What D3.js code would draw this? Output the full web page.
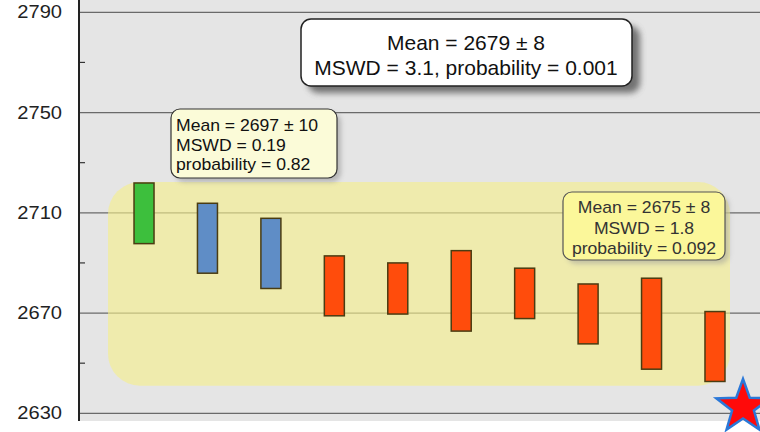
<!DOCTYPE html>
<html><head><meta charset="utf-8">
<script src="https://cdn.jsdelivr.net/npm/d3@7"></script>
<style>html,body{margin:0;padding:0;background:#fff;}svg{display:block;font-family:"Liberation Sans",Arial,sans-serif;}</style>
</head><body>
<svg id="c" width="760" height="432"></svg>
<script>
const samples = ["1","2","3","4","5","6","7","8","9","10"];
const highs = [2721.9, 2713.8, 2707.8, 2692.8, 2690.0, 2694.9, 2687.9, 2681.6, 2683.9, 2670.6];
const lows  = [2697.7, 2685.9, 2679.8, 2668.9, 2669.6, 2662.8, 2667.8, 2657.7, 2647.6, 2642.7];
const groups = ["old","mid","mid","young","young","young","young","young","young","young"];
const yTicks = [2630, 2670, 2710, 2750, 2790];
const yMinor = [2650, 2690, 2730, 2770];
const overallText = ["Mean = 2679 ± 8", "MSWD = 3.1, probability = 0.001"];
const oldText = ["Mean = 2697 ± 10", "MSWD = 0.19", "probability = 0.82"];
const youngText = ["Mean = 2675 ± 8", "MSWD = 1.8", "probability = 0.092"];

const colors = {old:"#3dbf3d", mid:"#5f8dc6", young:"#ff4c0c"};
const svg = d3.select("#c");
const W = 760, H = 432;
const plotLeft = 79, plotTop = 0, plotBottom = 421;
const y = d3.scaleLinear().domain([2630, 2790]).range([413.3, 12.3]);
const x = d3.scaleLinear().domain([0.5, 10.5]).range([112.3, 746.7]);

const defs = svg.append("defs");
const f = defs.append("filter").attr("id","sh").attr("x","-20%").attr("y","-20%").attr("width","150%").attr("height","160%");
f.append("feGaussianBlur").attr("stdDeviation", 2.5);
const f2 = defs.append("filter").attr("id","sh2").attr("x","-20%").attr("y","-20%").attr("width","150%").attr("height","160%");
f2.append("feGaussianBlur").attr("stdDeviation", 3);

// plot background
svg.append("rect").attr("x", plotLeft).attr("y", plotTop).attr("width", W-plotLeft).attr("height", plotBottom-plotTop).attr("fill", "#e5e5e5");

// gridlines
svg.append("g").selectAll("line").data(yTicks).join("line")
  .attr("x1", plotLeft).attr("x2", W).attr("y1", d=>y(d)).attr("y2", d=>y(d))
  .attr("stroke", "#6a6a6a").attr("stroke-width", 1.2);

// yellow highlight region
svg.append("rect")
  .attr("x", 108).attr("y", y(2722.3)).attr("width", 730-108).attr("height", y(2641) - y(2722.3))
  .attr("rx", 32).attr("ry", 32)
  .attr("fill", "#f6ef8a").attr("fill-opacity", 0.62);

// minor ticks
svg.append("g").selectAll("line").data(yMinor).join("line")
  .attr("x1", plotLeft).attr("x2", plotLeft+6).attr("y1", d=>y(d)).attr("y2", d=>y(d))
  .attr("stroke", "#333").attr("stroke-width", 1.2);

// axis line
svg.append("line").attr("x1", plotLeft).attr("x2", plotLeft).attr("y1", 0).attr("y2", plotBottom)
  .attr("stroke", "#222").attr("stroke-width", 2);

// y labels
svg.append("g").selectAll("text").data(yTicks).join("text")
  .attr("transform", d=>`translate(62,${y(d)+6}) scale(1.15,1)`)
  .attr("text-anchor","end").attr("font-size", 17.5).attr("fill", "#222")
  .text(d=>d);

// boxes
const bw = 20;
svg.append("g").selectAll("rect").data(samples).join("rect")
  .attr("x", (d,i)=>x(i+1)-bw/2).attr("width", bw)
  .attr("y", (d,i)=>y(highs[i])).attr("height", (d,i)=>y(lows[i])-y(highs[i]))
  .attr("fill", (d,i)=>colors[groups[i]])
  .attr("stroke", "#4a3c12").attr("stroke-width", 1.5);

// big annotation box
const bg = svg.append("g");
bg.append("rect").attr("x", 308).attr("y", 26).attr("width", 332).attr("height", 67).attr("rx", 10)
  .attr("fill", "#555").attr("filter","url(#sh2)").attr("opacity", 0.8);
bg.append("rect").attr("x", 301).attr("y", 19).attr("width", 331).attr("height", 67).attr("rx", 10)
  .attr("fill", "#fff").attr("stroke", "#222").attr("stroke-width", 1.5);
bg.selectAll("text").data(overallText).join("text")
  .attr("transform", (d,i)=>`translate(466,${50 + i*25}) scale(1.05,1)`)
  .attr("text-anchor","middle").attr("font-size", 20).attr("fill", "#111").text(d=>d);

// old group box
const ob = svg.append("g");
ob.append("rect").attr("x", 175).attr("y", 113).attr("width", 166).attr("height", 69).attr("rx", 9)
  .attr("fill", "#888").attr("filter","url(#sh)").attr("opacity", 0.5);
ob.append("rect").attr("x", 171).attr("y", 109).attr("width", 166).attr("height", 69).attr("rx", 9)
  .attr("fill", "#fbfbd8").attr("stroke", "#333").attr("stroke-width", 1.2);
ob.selectAll("text").data(oldText).join("text")
  .attr("transform", (d,i)=>`translate(176,${131 + i*19.5}) scale(1.1,1)`)
  .attr("font-size", 16).attr("fill", "#111").text(d=>d);

// young group box
const yb = svg.append("g");
yb.append("rect").attr("x", 567).attr("y", 196).attr("width", 162).attr("height", 68).attr("rx", 9)
  .attr("fill", "#999").attr("filter","url(#sh)").attr("opacity", 0.5);
yb.append("rect").attr("x", 563).attr("y", 192).attr("width", 162).attr("height", 68).attr("rx", 9)
  .attr("fill", "#fbf79a").attr("stroke", "#555").attr("stroke-width", 1.2);
yb.selectAll("text").data(youngText).join("text")
  .attr("transform", (d,i)=>`translate(644,${213 + i*20.5}) scale(1.1,1)`)
  .attr("text-anchor","middle").attr("font-size", 16).attr("fill", "#333").text(d=>d);

// star
const cx = 743, cy = 407, R = 28, r = 11.5;
const pts = d3.range(10).map(k=>{
  const a = -Math.PI/2 + k*Math.PI/5, rr = k%2 ? r : R;
  return [cx + rr*Math.cos(a), cy + rr*Math.sin(a)];
});
svg.append("path").attr("d", d3.line()(pts)+"Z").attr("fill", "#ff0a0a")
  .attr("stroke", "#2a78d8").attr("stroke-width", 2.5).attr("stroke-linejoin","miter");
</script>
</body></html>
